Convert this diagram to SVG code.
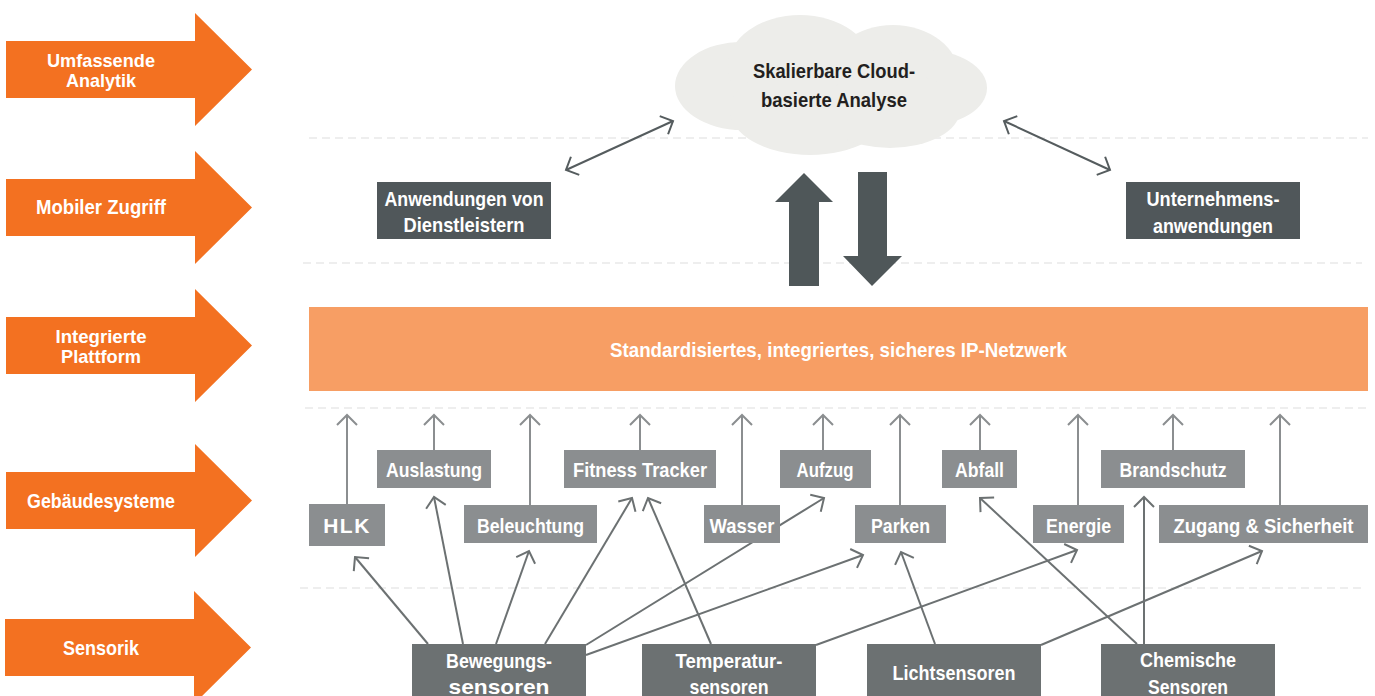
<svg xmlns="http://www.w3.org/2000/svg" width="1375" height="696" viewBox="0 0 1375 696">
  <defs>
    <style>
      .lbl { font-family: "Liberation Sans", Arial, sans-serif; font-weight: bold; font-size: 21px; fill: #ffffff; text-anchor: middle; }
      .tight { font-size: 19px; }
      .dark { fill: #231f20; }
      .tier { fill: #f37121; }
      .sys { fill: #8b8e90; }
      .sen { fill: #6c7172; }
      .app { fill: #50575a; }
      .guide { stroke: #e9e9e9; stroke-width: 1.5; stroke-dasharray: 8 5; fill: none; }
      .up { stroke: #8b8e90; stroke-width: 2; fill: none; marker-end: url(#chevLight); }
      .feed { stroke: #6c7172; stroke-width: 2; fill: none; marker-end: url(#chevMid); }
      .dbl { stroke: #555c5e; stroke-width: 2; fill: none; marker-start: url(#chevDark); marker-end: url(#chevDark); }
    </style>
    <marker id="chevLight" markerUnits="userSpaceOnUse" viewBox="-12 -12 14 24" refX="0" refY="0" markerWidth="14" markerHeight="24" orient="auto">
      <path d="M-10,-10 L0,0 L-10,10" fill="none" stroke="#8b8e90" stroke-width="2"/>
    </marker>
    <marker id="chevMid" markerUnits="userSpaceOnUse" viewBox="-12 -12 14 24" refX="0" refY="0" markerWidth="14" markerHeight="24" orient="auto">
      <path d="M-10,-10 L0,0 L-10,10" fill="none" stroke="#6c7172" stroke-width="2"/>
    </marker>
    <marker id="chevDark" markerUnits="userSpaceOnUse" viewBox="-12 -12 14 24" refX="0" refY="0" markerWidth="14" markerHeight="24" orient="auto-start-reverse">
      <path d="M-10,-10 L0,0 L-10,10" fill="none" stroke="#555c5e" stroke-width="2"/>
    </marker>
    <path id="tierArrow" d="M6,-28.5 H195 V-56.5 L252,0 L195,56.5 V28.5 H6 Z"/>
  </defs>

  <rect width="1375" height="696" fill="#ffffff"/>

  <!-- dashed tier separators -->
  <g id="guides">
    <line class="guide" x1="309" y1="138" x2="1368" y2="138"/>
    <line class="guide" x1="303" y1="263" x2="1362" y2="263"/>
    <line class="guide" x1="305" y1="408" x2="1368" y2="408"/>
    <line class="guide" x1="300" y1="588" x2="1362" y2="588"/>
  </g>

  <!-- tier labels on the left -->
  <g id="tier-analytik">
    <use href="#tierArrow" class="tier" transform="translate(0,69.5)"/>
    <text class="lbl tight" x="101" y="67" textLength="108" lengthAdjust="spacingAndGlyphs">Umfassende</text>
    <text class="lbl tight" x="101" y="87" textLength="70" lengthAdjust="spacingAndGlyphs">Analytik</text>
  </g>
  <g id="tier-mobil">
    <use href="#tierArrow" class="tier" transform="translate(0,207.5)"/>
    <text class="lbl" x="101" y="214" textLength="130" lengthAdjust="spacingAndGlyphs">Mobiler Zugriff</text>
  </g>
  <g id="tier-plattform">
    <use href="#tierArrow" class="tier" transform="translate(0,345.5)"/>
    <text class="lbl tight" x="101" y="343" textLength="91" lengthAdjust="spacingAndGlyphs">Integrierte</text>
    <text class="lbl tight" x="101" y="363" textLength="80" lengthAdjust="spacingAndGlyphs">Plattform</text>
  </g>
  <g id="tier-gebaeude">
    <use href="#tierArrow" class="tier" transform="translate(0,500.5)"/>
    <text class="lbl" x="101" y="508" textLength="148" lengthAdjust="spacingAndGlyphs">Gebäudesysteme</text>
  </g>
  <g id="tier-sensorik">
    <use href="#tierArrow" class="tier" transform="translate(-1,647.5)"/>
    <text class="lbl" x="101" y="655" textLength="76" lengthAdjust="spacingAndGlyphs">Sensorik</text>
  </g>

  <!-- connectors -->
  <g id="connectors">
    <line class="dbl" x1="566" y1="170" x2="673" y2="121"/>
    <line class="dbl" x1="1004" y1="121" x2="1110" y2="170"/>

    <!-- building systems up to the network -->
    <line class="up" x1="347" y1="504" x2="347" y2="415"/>
    <line class="up" x1="434" y1="450" x2="434" y2="415"/>
    <line class="up" x1="530" y1="505" x2="530" y2="415"/>
    <line class="up" x1="640" y1="450" x2="640" y2="415"/>
    <line class="up" x1="742" y1="505" x2="742" y2="415"/>
    <line class="up" x1="823" y1="450" x2="823" y2="415"/>
    <line class="up" x1="900" y1="505" x2="900" y2="415"/>
    <line class="up" x1="980" y1="450" x2="980" y2="415"/>
    <line class="up" x1="1078" y1="505" x2="1078" y2="415"/>
    <line class="up" x1="1173" y1="450" x2="1173" y2="415"/>
    <line class="up" x1="1280" y1="505" x2="1280" y2="415"/>

    <!-- sensors feeding building systems -->
    <line class="feed" x1="428" y1="644" x2="355" y2="557"/>
    <line class="feed" x1="463" y1="644" x2="434" y2="497"/>
    <line class="feed" x1="496" y1="644" x2="529" y2="551"/>
    <line class="feed" x1="545" y1="644" x2="632" y2="498"/>
    <line class="feed" x1="586" y1="645" x2="824" y2="498"/>
    <line class="feed" x1="586" y1="655" x2="863" y2="555"/>
    <line class="feed" x1="711" y1="644" x2="648" y2="498"/>
    <line class="feed" x1="816" y1="645" x2="1077" y2="550"/>
    <line class="feed" x1="935" y1="644" x2="901" y2="552"/>
    <line class="feed" x1="1041" y1="645" x2="1262" y2="551"/>
    <line class="feed" x1="1137" y1="644" x2="980" y2="498"/>
    <line class="feed" x1="1144" y1="644" x2="1144" y2="497"/>
  </g>

  <!-- cloud analytics -->
  <g id="cloud">
    <g fill="#ededea">
      <ellipse cx="742" cy="86" rx="67" ry="44"/>
      <ellipse cx="800" cy="66" rx="72" ry="51"/>
      <ellipse cx="893" cy="76" rx="66" ry="51"/>
      <ellipse cx="925" cy="88" rx="62" ry="38"/>
      <ellipse cx="810" cy="110" rx="80" ry="45"/>
      <ellipse cx="890" cy="110" rx="70" ry="38"/>
    </g>
    <text class="lbl dark" x="834" y="78" textLength="162" lengthAdjust="spacingAndGlyphs">Skalierbare Cloud-</text>
    <text class="lbl dark" x="834" y="107" textLength="146" lengthAdjust="spacingAndGlyphs">basierte Analyse</text>
  </g>

  <!-- up/down exchange between cloud and network -->
  <g id="exchange" fill="#4f5759">
    <path d="M804,173 L833,202 H819 V286 H789 V202 H775 Z"/>
    <path d="M858,172 H887 V256 H902 L872,286 L843,256 H858 Z"/>
  </g>

  <g id="app-dienstleister">
    <rect class="app" x="377" y="182" width="174" height="57"/>
    <text class="lbl" x="464" y="206" textLength="159" lengthAdjust="spacingAndGlyphs">Anwendungen von</text>
    <text class="lbl" x="464" y="232" textLength="121" lengthAdjust="spacingAndGlyphs">Dienstleistern</text>
  </g>
  <g id="app-unternehmen">
    <rect class="app" x="1126" y="182" width="174" height="57"/>
    <text class="lbl" x="1213" y="206" textLength="133" lengthAdjust="spacingAndGlyphs">Unternehmens-</text>
    <text class="lbl" x="1213" y="233" textLength="120" lengthAdjust="spacingAndGlyphs">anwendungen</text>
  </g>

  <g id="network">
    <rect x="309" y="307" width="1059" height="84" fill="#f79e64"/>
    <text class="lbl" x="838.5" y="357" textLength="457" lengthAdjust="spacingAndGlyphs">Standardisiertes, integriertes, sicheres IP-Netzwerk</text>
  </g>

  <!-- building systems -->
  <g id="sys-hlk">
    <rect class="sys" x="309" y="504" width="76" height="42"/>
    <text class="lbl" x="347" y="533" font-size="19" letter-spacing="1.5">HLK</text>
  </g>
  <g id="sys-auslastung">
    <rect class="sys" x="377" y="450" width="114" height="38"/>
    <text class="lbl" x="434" y="477" textLength="96" lengthAdjust="spacingAndGlyphs">Auslastung</text>
  </g>
  <g id="sys-beleuchtung">
    <rect class="sys" x="464" y="505" width="133" height="38"/>
    <text class="lbl" x="530.5" y="533" textLength="107" lengthAdjust="spacingAndGlyphs">Beleuchtung</text>
  </g>
  <g id="sys-fitness">
    <rect class="sys" x="564" y="450" width="152" height="38"/>
    <text class="lbl" x="640" y="477" textLength="134" lengthAdjust="spacingAndGlyphs">Fitness Tracker</text>
  </g>
  <g id="sys-wasser">
    <rect class="sys" x="704" y="505" width="76" height="38"/>
    <text class="lbl" x="742" y="533" textLength="65" lengthAdjust="spacingAndGlyphs">Wasser</text>
  </g>
  <g id="sys-aufzug">
    <rect class="sys" x="780" y="450" width="91" height="38"/>
    <text class="lbl" x="825" y="477" textLength="57" lengthAdjust="spacingAndGlyphs">Aufzug</text>
  </g>
  <g id="sys-parken">
    <rect class="sys" x="855" y="505" width="91" height="38"/>
    <text class="lbl" x="900.5" y="533" textLength="59" lengthAdjust="spacingAndGlyphs">Parken</text>
  </g>
  <g id="sys-abfall">
    <rect class="sys" x="942" y="450" width="75" height="38"/>
    <text class="lbl" x="979.5" y="477" textLength="49" lengthAdjust="spacingAndGlyphs">Abfall</text>
  </g>
  <g id="sys-energie">
    <rect class="sys" x="1033" y="505" width="91" height="38"/>
    <text class="lbl" x="1078.5" y="533" textLength="65" lengthAdjust="spacingAndGlyphs">Energie</text>
  </g>
  <g id="sys-brandschutz">
    <rect class="sys" x="1101" y="450" width="144" height="38"/>
    <text class="lbl" x="1173" y="477" textLength="107" lengthAdjust="spacingAndGlyphs">Brandschutz</text>
  </g>
  <g id="sys-zugang">
    <rect class="sys" x="1159" y="505" width="209" height="38"/>
    <text class="lbl" x="1263.5" y="533" textLength="180" lengthAdjust="spacingAndGlyphs">Zugang &amp; Sicherheit</text>
  </g>

  <!-- sensors -->
  <g id="sen-bewegung">
    <rect class="sen" x="412" y="644" width="174" height="60"/>
    <text class="lbl" x="499" y="668" textLength="106" lengthAdjust="spacingAndGlyphs">Bewegungs-</text>
    <text class="lbl" x="499" y="694" textLength="101" lengthAdjust="spacingAndGlyphs">sensoren</text>
  </g>
  <g id="sen-temperatur">
    <rect class="sen" x="642" y="644" width="174" height="60"/>
    <text class="lbl" x="729" y="668" textLength="107" lengthAdjust="spacingAndGlyphs">Temperatur-</text>
    <text class="lbl" x="729" y="694" textLength="79" lengthAdjust="spacingAndGlyphs">sensoren</text>
  </g>
  <g id="sen-licht">
    <rect class="sen" x="867" y="644" width="174" height="60"/>
    <text class="lbl" x="954" y="680" textLength="123" lengthAdjust="spacingAndGlyphs">Lichtsensoren</text>
  </g>
  <g id="sen-chemisch">
    <rect class="sen" x="1101" y="644" width="174" height="60"/>
    <text class="lbl" x="1188" y="667" textLength="96" lengthAdjust="spacingAndGlyphs">Chemische</text>
    <text class="lbl" x="1188" y="694" textLength="80" lengthAdjust="spacingAndGlyphs">Sensoren</text>
  </g>
</svg>
